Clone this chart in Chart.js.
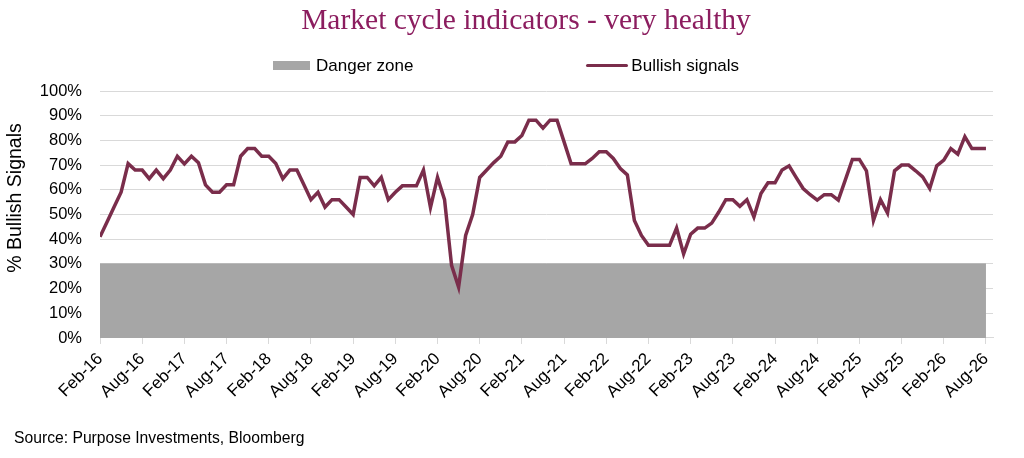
<!DOCTYPE html>
<html>
<head>
<meta charset="utf-8">
<script src="https://cdn.jsdelivr.net/npm/chart.js@4.4.1/dist/chart.umd.min.js"></script>
<style>
  html, body { margin: 0; padding: 0; background: #fff; }
  #wrap { position: relative; width: 1024px; height: 458px; }
  #title {
    position: absolute; top: 3px; left: 0; width: 1052px; text-align: center;
    font: 29.5px "Liberation Serif", "Times New Roman", serif; color: #8c1d5f;
    white-space: nowrap;
  }
  #legend {
    position: absolute; top: 55px; left: 273px; height: 21px;
    display: flex; align-items: center; gap: 173px;
    font: 17px "Liberation Sans", Arial, sans-serif; color: #000;
    white-space: nowrap;
  }
  #ytitle {
    position: absolute; left: 15px; top: 198px; width: 200px; height: 24px;
    margin-left: -100px; margin-top: -12px; line-height: 24px; text-align: center;
    transform: rotate(-90deg);
    font: 19.5px "Liberation Sans", Arial, sans-serif; color: #000;
    white-space: nowrap;
  }
  .item { display: flex; align-items: center; }
  .swatch { display: inline-block; }
</style>
</head>
<body>
<div id="wrap">
  <canvas id="marketCycleChart" width="1024" height="458"></canvas>
  <div id="title">Market cycle indicators - very healthy</div>
  <div id="legend"></div>
  <div id="ytitle">% Bullish Signals</div>
</div>
<script>
// x axis labels, one every 6 months (monthly data, Feb-16 .. Aug-26)
const tickLabels = [
  "Feb-16", "Aug-16", "Feb-17", "Aug-17", "Feb-18", "Aug-18", "Feb-19", "Aug-19",
  "Feb-20", "Aug-20", "Feb-21", "Aug-21", "Feb-22", "Aug-22", "Feb-23", "Aug-23",
  "Feb-24", "Aug-24", "Feb-25", "Aug-25", "Feb-26", "Aug-26"
];
const monthsPerTick = 6;

// % of bullish signals, one value per month
const bullishSignals = [
  41, 47, 53, 59, 70.6, 68, 68, 64.5, 68, 64.5,
  68, 73.6, 70.5, 73.6, 71, 62, 59, 59, 62, 62,
  73.6, 76.7, 76.7, 73.6, 73.6, 70.6, 64.5, 68, 68, 62,
  56, 59, 53, 56, 56, 53, 50, 65, 65, 61.6,
  65, 56, 59, 61.6, 61.6, 61.6, 68, 52.8, 65, 56,
  29.4, 20.6, 41.5, 50, 65, 68, 71, 73.6, 79.4, 79.4,
  82, 88.2, 88.2, 85, 88.2, 88.2, 79.4, 70.5, 70.5, 70.5,
  72.7, 75.4, 75.4, 72.7, 68.6, 66, 47.6, 41.5, 37.5, 37.5,
  37.5, 37.5, 44.5, 34, 42, 44.5, 44.5, 46.5, 51, 56,
  56, 53.3, 56, 49, 58.5, 62.8, 62.8, 68, 69.7, 65,
  60.5, 58, 55.8, 58, 58, 55.8, 64, 72.3, 72.3, 67.7,
  47.6, 56, 50.6, 67.7, 70, 70, 67.7, 65.2, 60.5, 69.7,
  72, 76.7, 74.4, 81.5, 76.7, 76.7, 76.7
];

// danger zone ceiling (%)
const dangerZone = 30;

const lastMonth = bullishSignals.length - 1;
const baseFont = "'Liberation Sans', Arial, sans-serif";

const ctx = document.getElementById("marketCycleChart").getContext("2d");
const chart = new Chart(ctx, {
  type: "line",
  data: {
    datasets: [
      {
        label: "Danger zone",
        data: [
          { x: 0, y: dangerZone },
          { x: lastMonth, y: dangerZone },
        ],
        backgroundColor: "#a6a6a6",
        borderColor: "#a6a6a6",
        borderWidth: 1,
        pointRadius: 0,
        fill: "origin",
        order: 1,
      },
      {
        label: "Bullish signals",
        data: bullishSignals.map((v, i) => ({ x: i, y: v })),
        borderColor: "#7a2d4b",
        borderWidth: 3.5,
        pointRadius: 0,
        tension: 0,
        fill: false,
        order: 0,
      },
    ],
  },
  options: {
    responsive: false,
    animation: false,
    layout: {
      padding: { left: 14, right: 31, top: 91, bottom: 0 },
    },
    plugins: {
      legend: { display: false },
      tooltip: { enabled: false },
      subtitle: {
        display: true,
        position: "bottom",
        align: "start",
        text: "Source: Purpose Investments, Bloomberg",
        color: "#000",
        font: { family: baseFont, size: 15.7 },
        padding: { top: 22, bottom: 10 },
      },
    },
    scales: {
      x: {
        type: "linear",
        min: 0,
        max: 127,
        grid: {
          drawOnChartArea: false,
          color: "#d9d9d9",
          tickLength: 6,
        },
        border: { color: "#d9d9d9" },
        ticks: {
          stepSize: monthsPerTick,
          includeBounds: false,
          autoSkip: false,
          minRotation: 45,
          maxRotation: 45,
          padding: 5,
          color: "#000",
          font: { family: baseFont, size: 17 },
          callback: (v) => tickLabels[v / monthsPerTick],
        },
      },
      y: {
        min: 0,
        max: 100,
        grid: { color: "#d9d9d9", drawTicks: false },
        border: { display: false },
        ticks: {
          stepSize: 10,
          padding: 18,
          color: "#000",
          font: { family: baseFont, size: 16.5 },
          callback: (v) => v + "%",
        },
        afterFit: (scale) => {
          scale.width = 86;
        },
      },
    },
  },
});

// legend as html, built from the chart's datasets
const legendEl = document.getElementById("legend");
chart.data.datasets.forEach((ds) => {
  const item = document.createElement("div");
  item.className = "item";
  const sw = document.createElement("span");
  sw.className = "swatch";
  if (ds.fill) {
    sw.style.width = "37px";
    sw.style.height = "9px";
    sw.style.background = ds.backgroundColor;
    sw.style.marginRight = "6px";
  } else {
    sw.style.width = "42px";
    sw.style.height = ds.borderWidth + "px";
    sw.style.background = ds.borderColor;
    sw.style.borderRadius = "2px";
    sw.style.marginRight = "3px";
  }
  const txt = document.createElement("span");
  txt.textContent = ds.label;
  item.appendChild(sw);
  item.appendChild(txt);
  legendEl.appendChild(item);
});
</script>
</body>
</html>
